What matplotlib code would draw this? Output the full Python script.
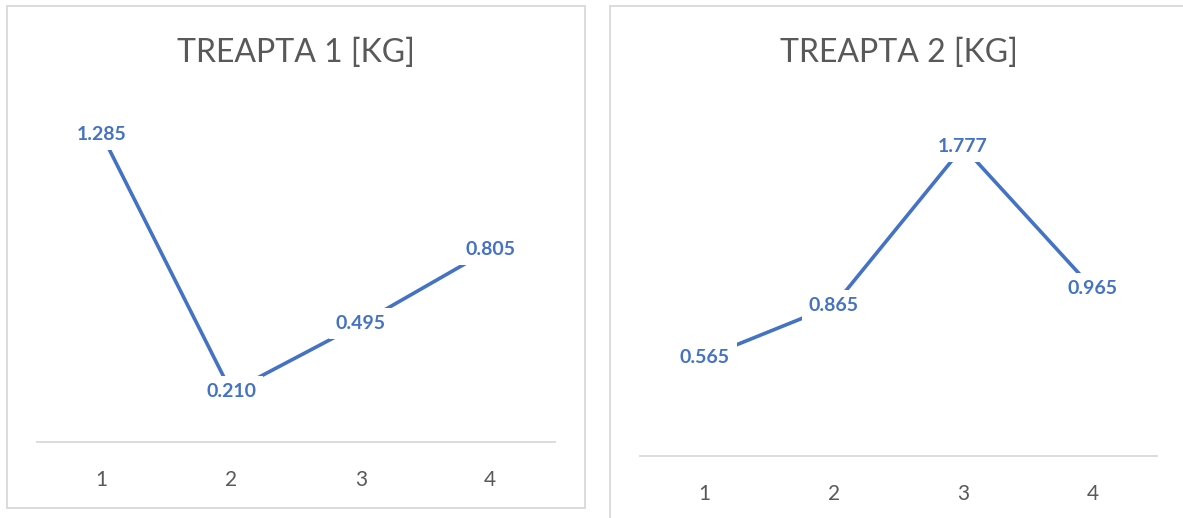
import matplotlib.pyplot as plt
from matplotlib.patches import Rectangle

plt.rcParams['font.family'] = ['Lato', 'DejaVu Sans']

# data
categories = [1, 2, 3, 4]
treapta1 = [1.285, 0.210, 0.495, 0.805]
treapta2 = [0.565, 0.865, 1.777, 0.965]
labels1 = ['1.285', '0.210', '0.495', '0.805']
labels2 = ['0.565', '0.865', '1.777', '0.965']

W, H = 1183, 518
blue = '#4472C4'
grey_text = '#595959'
grey_line = '#D9D9D9'

fig = plt.figure(figsize=(W / 100, H / 100), dpi=100)


def px_box(x0, y0, x1, y1):
    # pixel box (top-left origin) -> figure fraction rect
    return [x0 / W, 1 - y1 / H, (x1 - x0) / W, (y1 - y0) / H]


# chart frames
for x0, y0, x1, y1 in [(7, 6, 585, 508), (610, 6, 1190, 530)]:
    l, b, w, h = px_box(x0, y0, x1, y1)
    fig.patches.append(Rectangle((l, b), w, h, transform=fig.transFigure,
                                 fill=False, edgecolor=grey_line, linewidth=1.3))


def chart(rect, values, labels, ymax, title, title_y):
    ax = fig.add_axes(px_box(*rect))
    ax.plot(categories, values, color=blue, linewidth=2.6, zorder=1,
            solid_capstyle='butt')
    for x, y, t in zip(categories, values, labels):
        ax.text(x, y, t, ha='center', va='center', color=blue, fontsize=14,
                fontweight='bold', zorder=3,
                bbox=dict(facecolor='white', edgecolor='none', pad=5))
    ax.set_xlim(0.5, 4.5)
    ax.set_ylim(0, ymax)
    ax.set_xticks(categories)
    ax.set_xticklabels([str(c) for c in categories])
    ax.tick_params(axis='x', length=0, pad=20, labelsize=15, labelcolor=grey_text)
    ax.set_yticks([])
    for s in ['top', 'left', 'right']:
        ax.spines[s].set_visible(False)
    ax.spines['bottom'].set_color(grey_line)
    ax.spines['bottom'].set_linewidth(1.3)
    ax.set_facecolor('none')
    cx = (rect[0] + rect[2]) / 2
    fig.text(cx / W, 1 - title_y / H, title, ha='center', va='center',
             fontsize=23, color=grey_text)
    return ax


chart((37, 107, 555, 442), treapta1, labels1, 1.4, 'TREAPTA 1 [KG]', 53)
chart((640, 108, 1157, 456), treapta2, labels2, 2.0, 'TREAPTA 2 [KG]', 53)

fig.savefig('out.png', dpi=100)
